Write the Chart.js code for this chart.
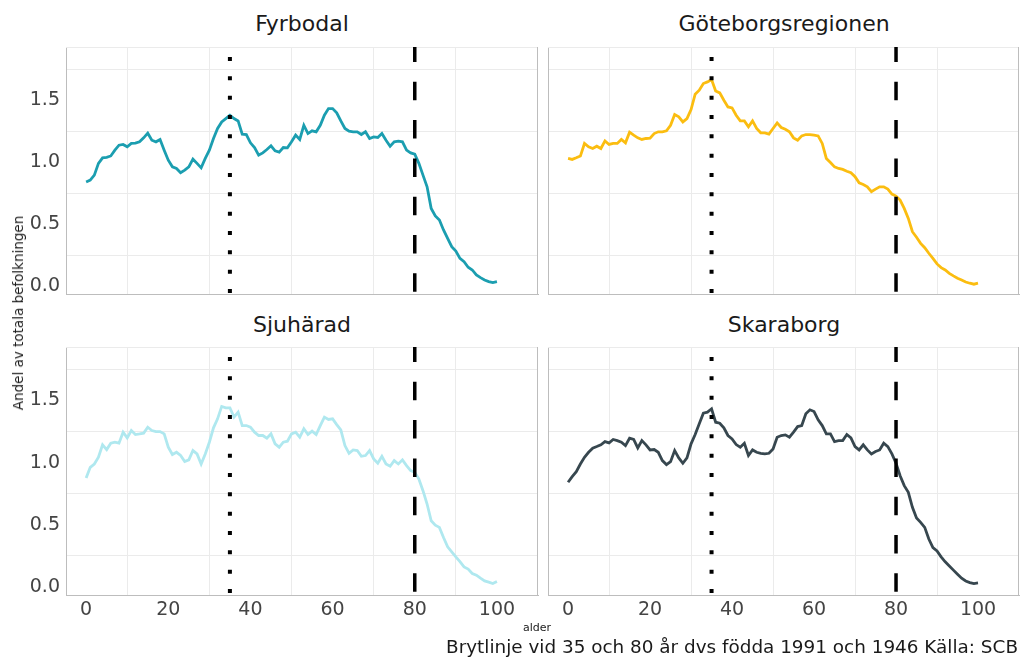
<!DOCTYPE html>
<html>
<head>
<meta charset="utf-8">
<script src="https://cdn.jsdelivr.net/npm/chart.js@4.4.1/dist/chart.umd.min.js"></script>
<style>
  body { margin: 0; background: #fff; width: 1021px; height: 657px; overflow: hidden; position: relative; font-family: "DejaVu Sans", sans-serif; }
  canvas { position: absolute; }
  .title { position: absolute; width: 472px; text-align: center; font-size: 22px; line-height: 26px; color: #1a1a1a; }
  .small { position: absolute; font-size: 11px; color: #1a1a1a; white-space: nowrap; }
</style>
</head>
<body>

<div class="title" style="left:66px; top:11px;">Fyrbodal</div>
<div class="title" style="left:548px; top:11px;">Göteborgsregionen</div>
<div class="title" style="left:66px; top:312px;">Sjuhärad</div>
<div class="title" style="left:548px; top:312px;">Skaraborg</div>

<canvas id="c1" style="left:0px; top:37px;" width="540" height="263"></canvas>
<canvas id="c2" style="left:540px; top:37px;" width="481" height="263"></canvas>
<canvas id="c3" style="left:0px; top:337px;" width="540" height="288"></canvas>
<canvas id="c4" style="left:540px; top:337px;" width="481" height="288"></canvas>

<div class="small" style="left:18px; top:313px; font-size:13.5px; transform: translate(-50%, -50%) rotate(-90deg);">Andel av totala befolkningen</div>
<div class="small" style="left:537px; top:627px; transform: translate(-50%, -50%);">alder</div>
<div style="position:absolute; right:3px; top:636px; font-size:18.4px; line-height:22px; color:#1a1a1a; white-space:nowrap;">Brytlinje vid 35 och 80 år dvs födda 1991 och 1946 Källa: SCB</div>

<script>
// ålder 0-100
const ages = [0,1,2,3,4,5,6,7,8,9,10,11,12,13,14,15,16,17,18,19,20,21,22,23,24,25,26,27,28,29,30,
  31,32,33,34,35,36,37,38,39,40,41,42,43,44,45,46,47,48,49,50,51,52,53,54,55,56,57,58,59,60,
  61,62,63,64,65,66,67,68,69,70,71,72,73,74,75,76,77,78,79,80,81,82,83,84,85,86,87,88,89,90,
  91,92,93,94,95,96,97,98,99,100];

const fyrbodal = [0.84,0.855,0.895,0.99,1.035,1.038,1.05,1.097,1.137,1.143,1.124,1.151,1.153,1.164,1.196,1.234,
  1.177,1.164,1.183,1.097,1.016,0.962,0.949,0.914,0.936,0.962,1.024,0.99,0.954,1.03,1.097,1.191,1.272,1.325,
  1.352,1.379,1.352,1.333,1.226,1.223,1.156,1.118,1.057,1.075,1.102,1.132,1.091,1.081,1.118,1.116,1.164,1.218,
  1.183,1.298,1.231,1.253,1.245,1.298,1.379,1.433,1.433,1.398,1.333,1.272,1.25,1.245,1.245,1.223,1.245,1.191,
  1.204,1.199,1.231,1.177,1.129,1.164,1.169,1.164,1.097,1.075,1.065,0.99,0.895,0.801,0.626,0.565,0.532,0.452,
  0.385,0.317,0.282,0.223,0.196,0.151,0.129,0.089,0.067,0.048,0.035,0.027,0.035];

const goteborg = [1.03,1.022,1.035,1.049,1.151,1.124,1.11,1.129,1.11,1.172,1.143,1.151,1.151,1.183,1.156,1.242,
  1.218,1.196,1.183,1.191,1.194,1.231,1.245,1.245,1.253,1.298,1.385,1.366,1.325,1.352,1.425,1.549,1.581,1.635,
  1.648,1.667,1.575,1.559,1.5,1.446,1.438,1.379,1.333,1.333,1.285,1.333,1.272,1.237,1.237,1.226,1.272,1.317,
  1.28,1.266,1.245,1.196,1.177,1.212,1.223,1.223,1.218,1.212,1.151,1.03,0.997,0.962,0.949,0.941,0.927,0.914,
  0.882,0.833,0.82,0.801,0.761,0.782,0.801,0.801,0.782,0.742,0.726,0.694,0.626,0.546,0.438,0.393,0.344,0.309,
  0.264,0.223,0.178,0.148,0.129,0.102,0.081,0.062,0.048,0.032,0.022,0.014,0.022];

const sjuharad = [0.876,0.962,0.989,1.043,1.143,1.105,1.156,1.164,1.156,1.245,1.199,1.258,1.226,1.231,1.237,1.285,
  1.258,1.25,1.25,1.231,1.124,1.065,1.083,1.057,1.008,1.022,1.097,1.07,0.989,1.07,1.164,1.28,1.352,1.452,
  1.441,1.441,1.366,1.406,1.298,1.298,1.285,1.245,1.218,1.218,1.196,1.231,1.151,1.124,1.164,1.172,1.231,1.245,
  1.204,1.272,1.226,1.253,1.226,1.298,1.366,1.347,1.352,1.306,1.264,1.137,1.075,1.102,1.097,1.051,1.057,1.097,
  1.03,0.995,1.051,0.989,0.971,1.016,0.989,1.022,0.976,0.936,0.922,0.868,0.774,0.667,0.532,0.497,0.479,0.398,
  0.323,0.282,0.242,0.204,0.161,0.143,0.108,0.094,0.07,0.048,0.038,0.027,0.043];

const skaraborg = [0.842,0.887,0.927,0.989,1.043,1.083,1.116,1.129,1.143,1.169,1.159,1.186,1.177,1.164,1.137,1.196,
  1.186,1.118,1.177,1.143,1.102,1.105,1.083,1.016,0.984,1.008,1.097,1.038,0.995,1.038,1.151,1.226,1.312,1.398,
  1.406,1.433,1.325,1.317,1.28,1.218,1.191,1.145,1.124,1.156,1.057,1.102,1.083,1.075,1.07,1.075,1.11,1.204,
  1.218,1.223,1.204,1.245,1.29,1.298,1.393,1.425,1.411,1.344,1.298,1.231,1.231,1.169,1.177,1.177,1.226,1.199,
  1.129,1.102,1.143,1.102,1.07,1.089,1.102,1.156,1.129,1.07,0.995,0.895,0.815,0.761,0.64,0.554,0.519,0.479,
  0.385,0.317,0.29,0.242,0.202,0.169,0.135,0.102,0.07,0.048,0.035,0.027,0.032];

// brytlinjer
const breakDotted = 35;
const breakDashed = 80;

const xTicks = [0,10,20,30,40,50,60,70,80,90,100];
const yTicks = [0,0.25,0.5,0.75,1,1.25,1.5,1.75];

const Y_MIN = -0.065, Y_MAX = 1.93;
const X_MIN = -4.9, X_MAX = 110;

// ram runt panelen (topp ljus, höger grå)
const frame = {
  id: 'frame',
  beforeDatasetsDraw(chart) {
    const a = chart.chartArea, c = chart.ctx;
    c.save();
    c.lineWidth = 1;
    c.strokeStyle = '#ebebeb';
    c.beginPath();
    c.moveTo(a.left, a.top + 0.5);
    c.lineTo(a.right, a.top + 0.5);
    c.stroke();
    c.strokeStyle = '#bdbdbd';
    c.beginPath();
    c.moveTo(a.right - 0.5, a.top);
    c.lineTo(a.right - 0.5, a.bottom);
    c.stroke();
    c.restore();
  }
};

function noPad(s) {
  s.paddingTop = 0; s.paddingBottom = 0; s.paddingLeft = 0; s.paddingRight = 0;
}

function makePanel(id, values, color, showY, showX) {
  const pts = ages.map((a, i) => ({ x: a, y: values[i] }));
  new Chart(document.getElementById(id), {
    type: 'line',
    data: {
      datasets: [
        {
          data: [{ x: breakDotted, y: Y_MAX }, { x: breakDotted, y: Y_MIN }],
          borderColor: '#000', borderWidth: 4, borderDash: [4, 15.33], borderDashOffset: 9.33,
          pointRadius: 0
        },
        {
          data: [{ x: breakDashed, y: Y_MAX }, { x: breakDashed, y: Y_MIN }],
          borderColor: '#000', borderWidth: 3.5, borderDash: [18.5, 19.8], borderDashOffset: 3.5,
          pointRadius: 0
        },
        {
          data: pts,
          borderColor: color, borderWidth: 2.8, pointRadius: 0, tension: 0
        }
      ]
    },
    options: {
      responsive: false,
      animation: false,
      events: [],
      layout: { padding: { top: 10, right: 2, bottom: 0, left: 0 } },
      plugins: { legend: { display: false }, tooltip: { enabled: false } },
      scales: {
        x: {
          type: 'linear', min: X_MIN, max: X_MAX,
          afterBuildTicks: s => { s.ticks = xTicks.map(v => ({ value: v })); },
          afterFit: s => { s.height = showX ? 30 : 6; noPad(s); },
          grid: {
            drawTicks: false,
            color: c => (c.tick && c.tick.value % 20 === 10) ? '#ebebeb' : 'rgba(0,0,0,0)'
          },
          border: { display: true, color: '#bdbdbd', width: 1 },
          ticks: {
            display: showX, padding: 4, color: '#444', maxRotation: 0, autoSkip: false,
            font: { family: 'DejaVu Sans', size: 19 },
            callback: v => (v % 20 === 0 ? String(v) : '')
          }
        },
        y: {
          type: 'linear', min: Y_MIN, max: Y_MAX,
          afterBuildTicks: s => { s.ticks = yTicks.map(v => ({ value: v })); },
          afterFit: s => { s.width = showY ? 66 : 8; noPad(s); },
          grid: {
            drawTicks: false,
            color: c => (c.tick && Math.abs((c.tick.value * 4) % 2 - 1) < 1e-6) ? '#ebebeb' : 'rgba(0,0,0,0)'
          },
          border: { display: true, color: '#bdbdbd', width: 1 },
          ticks: {
            display: showY, padding: 6, color: '#444', autoSkip: false,
            font: { family: 'DejaVu Sans', size: 19 },
            callback: v => (Math.abs((v * 2) % 1) < 1e-6 ? v.toFixed(1) : '')
          }
        }
      }
    },
    plugins: [frame]
  });
}

makePanel('c1', fyrbodal, '#1b9eb0', true, false);
makePanel('c2', goteborg, '#fbbd10', false, false);
makePanel('c3', sjuharad, '#afe8ef', true, true);
makePanel('c4', skaraborg, '#37474f', false, true);
</script>
</body>
</html>
